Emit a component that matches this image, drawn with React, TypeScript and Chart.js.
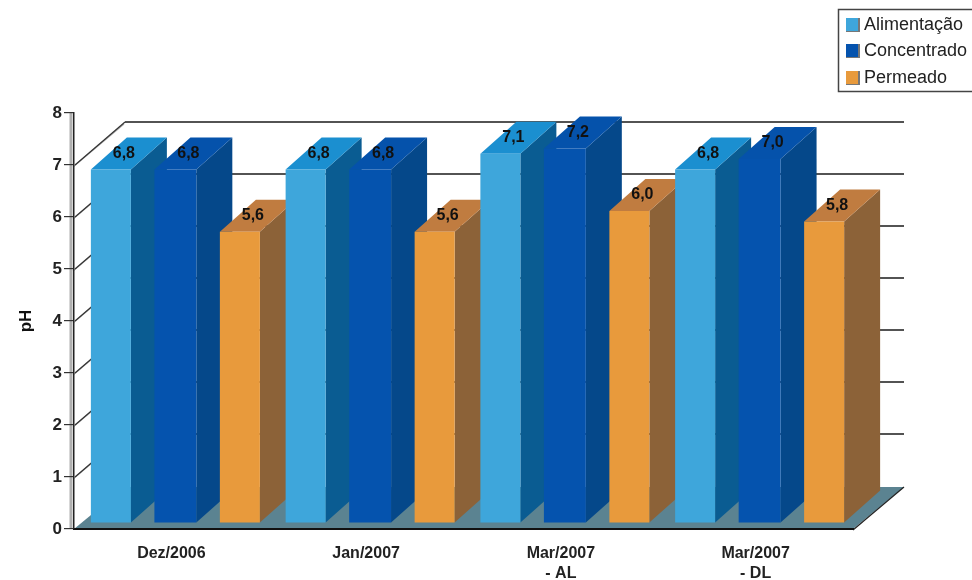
import React, { useEffect, useRef } from "react";
import { Chart, registerables } from "chart.js";

Chart.register(...registerables);

const categories = ["Dez/2006", "Jan/2007", ["Mar/2007", "- AL"], ["Mar/2007", "- DL"]];
const seriesNames = ["Alimentação", "Concentrado", "Permeado"];
const alimentacao = [6.8, 6.8, 7.1, 6.8];
const concentrado = [6.8, 6.8, 7.2, 7.0];
const permeado = [5.6, 5.6, 6.0, 5.8];
const yTicks = [0, 1, 2, 3, 4, 5, 6, 7, 8];

const frontColors = ["#3ea6db", "#0553ae", "#e89a3c"];
const topColors = ["#1b8fd0", "#0552ab", "#c07c40"];
const sideColors = ["#0a5c92", "#05488a", "#8c6238"];
const barShares = [0.62, 0.65, 0.62];
const FLOOR = "#5b8391";
const FONT = "'Liberation Sans', Arial, sans-serif";

// Projection of the 3D box: wall depth and bar depth, and the shift of the bar plane.
const WALL = { dx: 51, dy: -43 };
const BAR = { dx: 36, dy: -32 };
const PLANE = { dx: 4, dy: -6 };

const fmt = (v: number) => v.toFixed(1).replace(".", ",");

function poly(ctx: CanvasRenderingContext2D, pts: number[][], fill: string) {
  ctx.beginPath();
  pts.forEach(([x, y], i) => (i ? ctx.lineTo(x, y) : ctx.moveTo(x, y)));
  ctx.closePath();
  ctx.fillStyle = fill;
  ctx.fill();
}

function line(ctx: CanvasRenderingContext2D, x0: number, y0: number, x1: number, y1: number, color: string, w: number) {
  ctx.beginPath();
  ctx.moveTo(x0, y0);
  ctx.lineTo(x1, y1);
  ctx.strokeStyle = color;
  ctx.lineWidth = w;
  ctx.stroke();
}

const box3d = {
  id: "box3d",
  beforeDraw(chart: any) {
    const { ctx, chartArea: a, scales } = chart;
    const y = scales.y;
    const base = y.getPixelForValue(0);
    ctx.save();
    // Back wall lines, with the slanted stubs on the side wall.
    for (let v = 1; v <= 7; v++) {
      const py = y.getPixelForValue(v);
      line(ctx, a.left + WALL.dx, py + WALL.dy, a.right + WALL.dx, py + WALL.dy, "#1a1a1a", 1.5);
      line(ctx, a.left - 1, py + 2, a.left + WALL.dx - 1, py + WALL.dy + 2, "#a8a8a8", 1.2);
      line(ctx, a.left + 1, py, a.left + WALL.dx, py + WALL.dy, "#333", 1.2);
    }
    // Floor of the box.
    poly(ctx, [
      [a.left, base],
      [a.right, base],
      [a.right + WALL.dx, base - 42],
      [a.left + WALL.dx, base - 42],
    ], FLOOR);
    line(ctx, a.right, base + 1, a.right + WALL.dx, base - 42, "#222", 1.2);
    // Grey shadow along the value axis.
    line(ctx, a.left - 3, a.top, a.left - 3, base, "#b0b0b0", 3);
    ctx.restore();
  },
  beforeDatasetsDraw(chart: any) {
    const { ctx } = chart;
    const cols: any[] = [];
    chart.data.datasets.forEach((_: any, di: number) => {
      chart.getDatasetMeta(di).data.forEach((el: any, i: number) => {
        cols.push({ el, di, i, x: el.x });
      });
    });
    cols.sort((p, q) => p.x - q.x);
    ctx.save();
    ctx.translate(PLANE.dx, PLANE.dy);
    // Bars are painted left to right so each one covers the side of its neighbour.
    cols.forEach(({ el, di }) => {
      const l = el.x - el.width / 2;
      const r = el.x + el.width / 2;
      poly(ctx, [
        [r, el.y],
        [r + BAR.dx, el.y + BAR.dy],
        [r + BAR.dx, el.base + BAR.dy],
        [r, el.base],
      ], sideColors[di]);
      poly(ctx, [
        [l, el.y],
        [l + BAR.dx, el.y + BAR.dy],
        [r + BAR.dx, el.y + BAR.dy],
        [r, el.y],
      ], topColors[di]);
      el.draw(ctx);
    });
    // Value labels sit on the top face of each bar.
    ctx.font = `bold 16px ${FONT}`;
    ctx.fillStyle = "#111";
    ctx.textAlign = "center";
    ctx.textBaseline = "middle";
    cols.forEach(({ el, di, i }) => {
      const v = chart.data.datasets[di].data[i];
      ctx.fillText(fmt(v), el.x + 13, el.y - 16);
    });
    ctx.restore();
    return false;
  },
  afterDraw(chart: any) {
    const { ctx } = chart;
    ctx.save();
    // Legend box; its right side runs off the canvas.
    ctx.strokeStyle = "#444";
    ctx.lineWidth = 1.5;
    ctx.strokeRect(838.5, 9.5, 140, 82);
    const rowY = [25, 51, 78];
    ctx.font = `18px ${FONT}`;
    ctx.textBaseline = "middle";
    ctx.textAlign = "left";
    chart.data.datasets.forEach((ds: any, i: number) => {
      ctx.fillStyle = "#777";
      ctx.fillRect(846, rowY[i] - 7, 14, 14);
      ctx.fillStyle = ds.backgroundColor;
      ctx.fillRect(846, rowY[i] - 7, 12, 13);
      ctx.fillStyle = "#222";
      ctx.fillText(ds.label, 864, rowY[i]);
    });
    ctx.restore();
  },
};

export default function App() {
  const ref = useRef<HTMLCanvasElement>(null);
  useEffect(() => {
    const chart = new Chart(ref.current!, {
      type: "bar",
      data: {
        labels: categories as any,
        datasets: [alimentacao, concentrado, permeado].map((data, i) => ({
          label: seriesNames[i],
          data,
          backgroundColor: frontColors[i],
          barPercentage: barShares[i],
          categoryPercentage: 0.9936,
        })),
      },
      options: {
        responsive: false,
        animation: false,
        layout: { padding: { top: 113, right: 119, left: 0, bottom: 0 } },
        plugins: { legend: { display: false }, tooltip: { enabled: false } },
        scales: {
          x: {
            grid: { display: false },
            border: { color: "#111", width: 2 },
            ticks: {
              color: "#222",
              font: { family: FONT, size: 16, weight: "bold", lineHeight: 1.25 },
              padding: 7,
              maxRotation: 0,
              autoSkip: false,
            },
            afterFit: (s: any) => { s.height = 51; },
          },
          y: {
            min: 0,
            max: 8,
            afterBuildTicks: (s: any) => { s.ticks = yTicks.map((value) => ({ value })); },
            grid: { drawOnChartArea: false, tickLength: 10, color: "#333", lineWidth: 1.2 },
            border: { color: "#222", width: 1.5 },
            ticks: {
              color: "#222",
              font: { family: FONT, size: 17, weight: "bold" },
              padding: 2,
            },
            title: {
              display: true,
              text: "pH",
              color: "#111",
              font: { family: FONT, size: 17, weight: "bold" },
              padding: { top: 16, bottom: 0 },
            },
            afterFit: (s: any) => { s.width = 74; },
          },
        },
      },
      plugins: [box3d],
    } as any);
    return () => chart.destroy();
  }, []);
  return (
    <div style={{ position: "fixed", left: 0, top: 0, width: 972, height: 580, background: "#fff", overflow: "hidden" }}>
      <canvas ref={ref} width={972} height={580} style={{ display: "block" }} />
    </div>
  );
}
